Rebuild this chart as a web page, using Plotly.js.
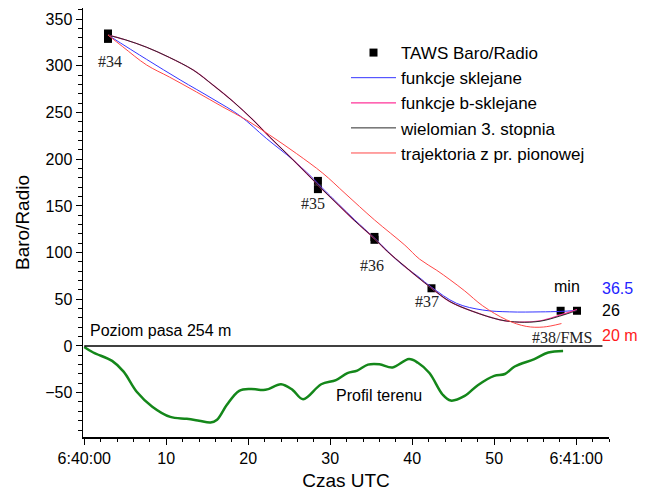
<!DOCTYPE html>
<html><head><meta charset="utf-8">
<script src="https://cdn.plot.ly/plotly-3.0.1.min.js"></script>
<style>html,body{margin:0;padding:0;background:#fff}#chart{width:646px;height:493px}</style>
</head><body><div id="chart"></div>
<script>
// time in seconds after 6:40:00, altitude in m
const tawsT   = [2.9, 2.9, 28.5, 28.5, 35.4, 35.4, 42.35, 58.1, 60.1];
const tawsAlt = [334.7, 328.9, 176.8, 168, 116.8, 113.7, 61.8, 37.7, 37.7];

const splineT   = [2.9, 7.6, 11.7, 15.7, 19, 22.2, 25.5, 27.9, 28.5, 31, 33, 35.4, 38.5, 40.7, 42.35, 45.4, 48.6, 51.9, 55.6, 58, 60.1];
const splineAlt = [333, 307, 285, 264.5, 246.5, 222.4, 199, 179.5, 174, 152, 135, 115.5, 89, 74.5, 63, 45.7, 38.5, 36.5, 36.5, 37, 38];

const bsplineT   = [2.9, 5, 7.6, 10.4, 13.3, 15.7, 18.2, 20.6, 22.6, 24.7, 27.1, 29, 31, 33, 35.4, 37, 39, 40.7, 42.35, 44.6, 47.4, 50.7, 53.1, 55.6, 58, 60.1];
const bsplineAlt = [333, 328, 320, 309, 295.5, 279.5, 261.5, 242, 224, 206, 185, 168, 151, 134, 115, 101, 86, 73.5, 62, 47.5, 37, 28, 25.5, 27, 33, 39];

const cubicT   = [2.9, 5, 7.6, 10.4, 13.3, 15.7, 18.2, 20.6, 22.6, 24.7, 27.1, 29, 31, 33, 35.4, 37, 39, 40.7, 42.35, 44.6, 47.4, 50.7, 53.1, 55.6, 58, 60.1];
const cubicAlt = [333, 328, 320, 309, 295.5, 279.5, 261.5, 242, 224, 206, 185, 168, 151, 134, 115, 101, 86, 73.5, 62, 47.5, 37, 28, 25.5, 26.5, 32, 38];

const verticalT   = [2.9, 4.7, 7.6, 10.4, 13.7, 16.9, 19.8, 22.6, 25.9, 29.1, 31.8, 35.4, 39.1, 40.9, 43, 44.6, 46.4, 48.6, 51.5, 53.9, 56, 58.2];
const verticalAlt = [333, 320.5, 301, 288, 272, 256, 242, 226, 206, 185, 163.5, 135, 108, 93, 81, 71, 59, 43, 28, 21, 20.3, 24];

const terrainT   = [0, 1.1, 3.4, 4.8, 6.4, 8.3, 10.5, 12.5, 14, 15.4, 16.2, 17.4, 18.9, 20.3, 22.1, 24, 25.4, 26.7, 28.9, 30.7, 32.1, 33.3, 34.6, 36, 37.6, 39.6, 40.7, 42.1, 43.7, 44.7, 46.4, 48, 50, 51.3, 52.5, 54.9, 56.6, 58.4];
const terrainAlt = [-1, -7, -16, -27.5, -49, -65, -76, -78, -80, -82, -79, -63, -48, -46, -47, -41, -47, -57, -41, -36.5, -29, -26.4, -20, -19.6, -23, -14, -18, -29, -52, -58.5, -53.5, -42, -32, -30, -22, -14, -7, -5.4];

const xTickVals = [0, 10, 20, 30, 40, 50, 60];
const xTickText = ["6:40:00", "10", "20", "30", "40", "50", "6:41:00"];
const seriesNames = ["TAWS Baro/Radio", "funkcje sklejane", "funkcje b-sklejane", "wielomian 3. stopnia", "trajektoria z pr. pionowej"];

const pointLabels = ["#34", "#35", "#36", "#37", "#38/FMS"];
const pointLabelT = [3.1, 27.9, 35.1, 41.8, 58.3];
const pointLabelAlt = [305, 152.6, 86.7, 47.6, 8.6];

const minLabels = ["36.5", "26", "20 m"];
const minAlt = [62, 37.5, 10.7];
const minColors = ["#2323ff", "#000000", "#ff1a1a"];

const sans = "Liberation Sans, Arial, sans-serif";
const serif = "Liberation Serif, Times New Roman, serif";

const traces = [
  {x: terrainT, y: terrainAlt, mode: 'lines', line: {color: '#14871a', width: 2.5, shape: 'spline'}, showlegend: false, name: 'Profil terenu'},
  {x: tawsT, y: tawsAlt, mode: 'markers', name: seriesNames[0], marker: {symbol: 'square', size: 8, color: '#000'}},
  {x: splineT, y: splineAlt, mode: 'lines', name: seriesNames[1], line: {color: '#3535ff', width: 1, shape: 'spline'}},
  {x: bsplineT, y: bsplineAlt, mode: 'lines', name: seriesNames[2], line: {color: '#ff3399', width: 1.2, shape: 'spline'}},
  {x: cubicT, y: cubicAlt, mode: 'lines', name: seriesNames[3], line: {color: '#2a2a2a', width: 1, shape: 'spline'}},
  {x: verticalT, y: verticalAlt, mode: 'lines', name: seriesNames[4], line: {color: '#ff4646', width: 1, shape: 'spline'}}
];

const annotations = [];
pointLabels.forEach((t, i) => annotations.push({x: pointLabelT[i], y: pointLabelAlt[i], text: t, showarrow: false, xanchor: 'center', yanchor: 'middle', font: {family: serif, size: 16, color: '#222'}}));
annotations.push({x: 58.9, y: 64, text: 'min', showarrow: false, xanchor: 'center', yanchor: 'middle', font: {family: sans, size: 16, color: '#000'}});
minLabels.forEach((t, i) => annotations.push({x: 62.9, y: minAlt[i], text: t, showarrow: false, xanchor: 'left', yanchor: 'middle', font: {family: sans, size: 16, color: minColors[i]}}));
annotations.push({x: 0.45, y: 17, text: 'Poziom pasa 254 m', showarrow: false, xanchor: 'left', yanchor: 'middle', font: {family: sans, size: 16, color: '#000'}});
annotations.push({x: 35.9, y: -53.5, text: 'Profil terenu', showarrow: false, xanchor: 'center', yanchor: 'middle', font: {family: sans, size: 16, color: '#000'}});

const layout = {
  width: 646, height: 493,
  margin: {l: 83, r: 37, t: 8, b: 56, pad: 0},
  paper_bgcolor: '#fff', plot_bgcolor: '#fff',
  font: {family: sans, size: 16, color: '#000'},
  showlegend: true,
  legend: {x: 0.5, y: 0.937, xanchor: 'left', yanchor: 'top', itemwidth: 45, bgcolor: 'rgba(0,0,0,0)', font: {family: sans, size: 17, color: '#000'}, tracegroupgap: 0},
  xaxis: {
    range: [-0.15, 64.0], showgrid: false, zeroline: false,
    showline: true, linecolor: '#000', linewidth: 1.5,
    ticks: 'outside', ticklen: 6, tickwidth: 1, tickcolor: '#000',
    tickvals: xTickVals, ticktext: xTickText, tickfont: {size: 16},
    minor: {dtick: 2, tick0: 0, ticks: 'outside', ticklen: 3.5, tickwidth: 1, tickcolor: '#000', showgrid: false},
    title: {text: 'Czas UTC', font: {size: 19}, standoff: 8}
  },
  yaxis: {
    range: [-97.5, 362], showgrid: false, zeroline: false,
    showline: true, linecolor: '#000', linewidth: 1.5,
    ticks: 'outside', ticklen: 6, tickwidth: 1, tickcolor: '#000',
    dtick: 50, tick0: 0, tickfont: {size: 16},
    minor: {dtick: 10, tick0: 0, ticks: 'outside', ticklen: 3.5, tickwidth: 1, tickcolor: '#000', showgrid: false},
    title: {text: 'Baro/Radio\u00a0\u00a0\u00a0\u00a0\u00a0', font: {size: 19}, standoff: 10}
  },
  shapes: [{type: 'line', xref: 'x', yref: 'y', x0: 0, x1: 63.2, y0: 0, y1: 0, line: {color: '#000', width: 1.5}}],
  annotations: annotations
};

Plotly.newPlot('chart', traces, layout, {staticPlot: true, displayModeBar: false});
</script>
</body></html>
